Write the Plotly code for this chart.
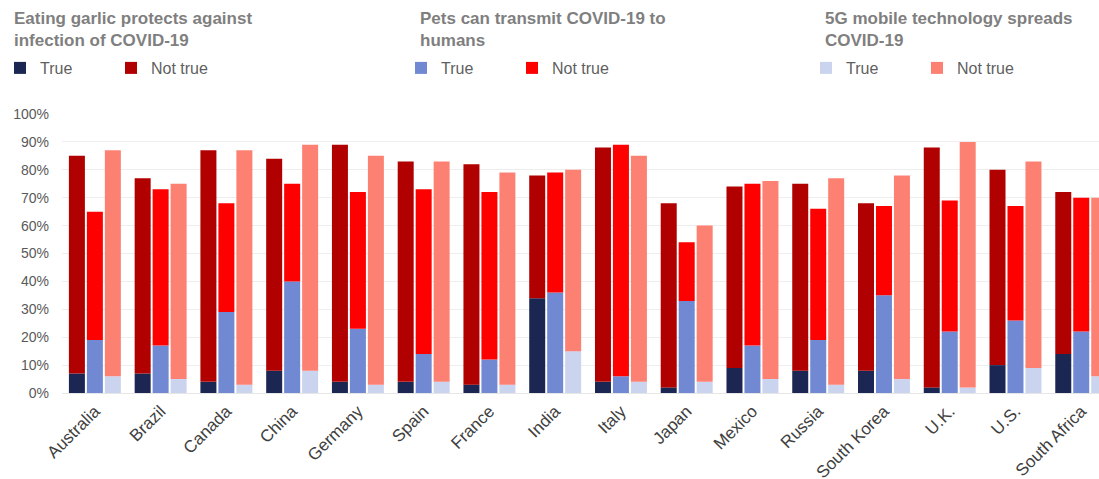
import plotly.graph_objects as go

countries = ["Australia", "Brazil", "Canada", "China", "Germany", "Spain", "France",
             "India", "Italy", "Japan", "Mexico", "Russia", "South Korea", "U.K.",
             "U.S.", "South Africa"]

# Share of respondents (%) answering each statement
garlic_true = [7, 7, 4, 8, 4, 4, 3, 34, 4, 2, 9, 8, 8, 2, 10, 14]
garlic_not_true = [78, 70, 83, 76, 85, 79, 79, 44, 84, 66, 65, 67, 60, 86, 70, 58]

pets_true = [19, 17, 29, 40, 23, 14, 12, 36, 6, 33, 17, 19, 35, 22, 26, 22]
pets_not_true = [46, 56, 39, 35, 49, 59, 60, 43, 83, 21, 58, 47, 32, 47, 41, 48]

fiveg_true = [6, 5, 3, 8, 3, 4, 3, 15, 4, 4, 5, 3, 5, 2, 9, 6]
fiveg_not_true = [81, 70, 84, 81, 82, 79, 76, 65, 81, 56, 71, 74, 73, 88, 74, 64]

questions = [
    ("Eating garlic protects against<br>infection of COVID-19", garlic_true, garlic_not_true,
     "#1b2653", "#b00000", "legend"),
    ("Pets can transmit COVID-19 to<br>humans", pets_true, pets_not_true,
     "#7189d3", "#fe0000", "legend2"),
    ("5G mobile technology spreads<br>COVID-19", fiveg_true, fiveg_not_true,
     "#cad4ee", "#fd8173", "legend3"),
]

FONT = "Liberation Sans, Arial, sans-serif"
W, H = 1099, 479
ML, MR, MT, MB = 62, 0, 114, 86

fig = go.Figure()
for i, (q, t_vals, n_vals, c_true, c_not, lg) in enumerate(questions):
    fig.add_trace(go.Bar(
        x=countries, y=t_vals, name="True", offsetgroup=str(i),
        marker=dict(color=c_true, line=dict(width=0)), legend=lg,
    ))
    fig.add_trace(go.Bar(
        x=countries, y=n_vals, base=t_vals, name="Not true", offsetgroup=str(i),
        marker=dict(color=c_not, line=dict(width=0)), legend=lg,
    ))

# Block positions (left edge, px) for each question's heading and legend
block_left = [12, 418, 823]

legend_layouts = {}
for key, left in zip(["legend", "legend2", "legend3"], block_left):
    legend_layouts[key] = dict(
        orientation="h", xref="container", yref="container",
        x=(left - 17) / W, xanchor="left", y=1 - 68 / H, yanchor="middle",
        font=dict(family=FONT, size=16, color="#5f5f5f"),
        bgcolor="rgba(0,0,0,0)", entrywidth=66, itemclick=False,
        itemdoubleclick=False, traceorder="normal",
    )

annotations = []
for (q, *_rest), left in zip(questions, block_left):
    annotations.append(dict(
        text="<b>" + q + "</b>", xref="paper", yref="paper",
        x=(left - ML) / (W - ML - MR), xanchor="left",
        y=1 + (MT - 7) / (H - MT - MB), yanchor="top",
        showarrow=False, align="left",
        font=dict(family=FONT, size=17, color="#7f7f7f"),
    ))

fig.update_layout(
    width=W, height=H,
    margin=dict(l=ML, r=MR, t=MT, b=MB),
    paper_bgcolor="white", plot_bgcolor="white",
    barmode="group", bargap=0.18, bargroupgap=0.11,
    font=dict(family=FONT, color="#595959"),
    showlegend=True,
    annotations=annotations,
    **legend_layouts,
)

fig.update_yaxes(
    range=[0, 100], dtick=10, ticksuffix="%", showgrid=True, gridcolor="#eeeeee",
    gridwidth=1, zeroline=True, zerolinecolor="#e6e6e6", zerolinewidth=1,
    tickfont=dict(family=FONT, size=14, color="#595959"), ticks="",
    ticklabelstandoff=12, automargin=False,
)
fig.update_xaxes(
    type="category", range=[-0.5, 15.27], tickangle=-45,
    tickfont=dict(family=FONT, size=17, color="#404040"), showgrid=False,
    showline=False, ticks="", ticklabelstandoff=4, automargin=False,
)

fig.write_html("out.html")
